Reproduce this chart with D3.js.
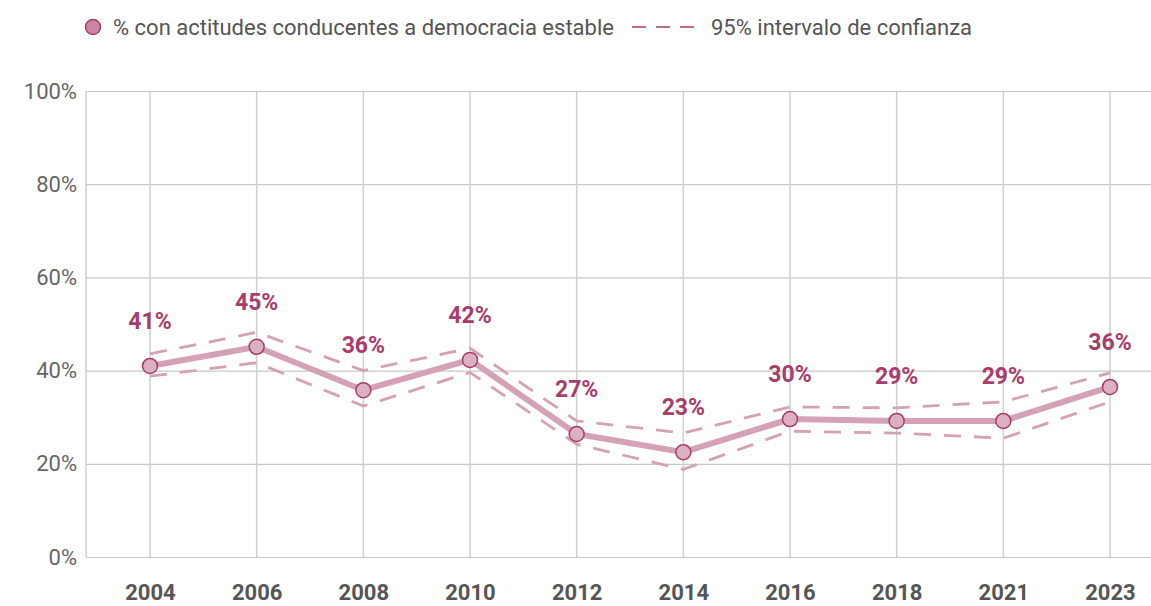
<!DOCTYPE html>
<html>
<head>
    <meta charset="utf-8">
    <title>Actitudes conducentes a democracia estable</title>
    <script src="https://cdnjs.cloudflare.com/ajax/libs/d3/7.8.5/d3.min.js"></script>
    <style>
        body {
            margin: 0;
            background: white;
            font-family: Roboto, "Noto Sans", sans-serif;
        }
        #chart { width: 1151px; height: 606px; }
    </style>
</head>
<body>
    <div id="chart"></div>

    <script>
        // data
        const years = ["2004", "2006", "2008", "2010", "2012", "2014", "2016", "2018", "2021", "2023"];
        const values = [41.0, 45.1, 35.8, 42.3, 26.4, 22.5, 29.6, 29.2, 29.2, 36.5];
        const labels = ["41%", "45%", "36%", "42%", "27%", "23%", "30%", "29%", "29%", "36%"];
        const upper = [43.6, 48.2, 40.0, 44.8, 29.2, 26.6, 32.2, 32.0, 33.3, 39.5];
        const lower = [38.8, 41.7, 32.4, 39.6, 24.2, 18.8, 27.0, 26.6, 25.5, 33.3];
        const yTicks = [0, 20, 40, 60, 80, 100];

        const W = 1151, H = 606;
        const margin = {top: 91, right: 0, bottom: 49, left: 86};
        const width = W - margin.left - margin.right;
        const height = H - margin.top - margin.bottom;

        const lineColor = "#d5a1b7";
        const darkColor = "#a83c6b";

        const svg = d3.select("#chart").append("svg")
            .attr("width", W)
            .attr("height", H);

        const g = svg.append("g")
            .attr("transform", `translate(${margin.left},${margin.top})`);

        const x = d3.scalePoint()
            .domain(years)
            .range([64, 1024]);

        const y = d3.scaleLinear()
            .domain([0, 100])
            .range([height, 0]);

        // horizontal grid + y labels
        g.append("g")
            .call(d3.axisLeft(y).tickValues(yTicks).tickSize(-width).tickFormat(d => d + "%"))
            .call(ax => ax.select(".domain").remove())
            .call(ax => ax.selectAll("line").attr("stroke", "#c8c8c8").attr("stroke-width", 1.2))
            .call(ax => ax.selectAll("text")
                .attr("x", -9)
                .attr("fill", "#666")
                .style("font-size", "22px")
                .style("font-family", "Roboto, sans-serif"));

        // vertical grid lines
        g.append("g")
            .selectAll("line")
            .data(years)
            .enter().append("line")
            .attr("x1", d => x(d)).attr("x2", d => x(d))
            .attr("y1", 0).attr("y2", height)
            .attr("stroke", "#d0d0d0")
            .attr("stroke-width", 1.5);

        // left axis line
        g.append("line")
            .attr("x1", 0).attr("x2", 0)
            .attr("y1", 0).attr("y2", height)
            .attr("stroke", "#d0d0d0")
            .attr("stroke-width", 1.5);

        // x labels
        g.append("g")
            .attr("transform", `translate(0,${height})`)
            .call(d3.axisBottom(x).tickSize(0).tickPadding(27))
            .call(ax => ax.select(".domain").remove())
            .call(ax => ax.selectAll("text")
                .attr("fill", "#555")
                .style("font-size", "22px")
                .style("font-weight", "bold")
                .style("font-family", "Roboto, sans-serif"));

        const line = d3.line()
            .x((d, i) => x(years[i]))
            .y(d => y(d));

        // confidence interval
        [upper, lower].forEach(arr => {
            g.append("path")
                .datum(arr)
                .attr("d", line)
                .attr("fill", "none")
                .attr("stroke", lineColor)
                .attr("stroke-width", 2.8)
                .attr("stroke-dasharray", "17,13");
        });

        // main line
        g.append("path")
            .datum(values)
            .attr("d", line)
            .attr("fill", "none")
            .attr("stroke", lineColor)
            .attr("stroke-width", 6);

        g.selectAll(".pt")
            .data(values)
            .enter().append("circle")
            .attr("cx", (d, i) => x(years[i]))
            .attr("cy", d => y(d))
            .attr("r", 7.5)
            .attr("fill", "#dbb0c2")
            .attr("stroke", darkColor)
            .attr("stroke-width", 1.5);

        g.selectAll(".lbl")
            .data(values)
            .enter().append("text")
            .attr("x", (d, i) => x(years[i]))
            .attr("y", d => y(d) - 37)
            .attr("text-anchor", "middle")
            .attr("fill", darkColor)
            .style("font-size", "23px")
            .style("font-weight", "bold")
            .style("font-family", "Roboto, sans-serif")
            .text((d, i) => labels[i]);

        // legend
        const legend = svg.append("g");
        legend.append("circle")
            .attr("cx", 93).attr("cy", 27).attr("r", 7.5)
            .attr("fill", "#cb86a4")
            .attr("stroke", darkColor)
            .attr("stroke-width", 1.5);
        legend.append("text")
            .attr("x", 113).attr("y", 35)
            .attr("fill", "#555")
            .style("font-size", "22px")
            .style("font-family", "Roboto, sans-serif")
            .text("% con actitudes conducentes a democracia estable");
        legend.append("line")
            .attr("x1", 632).attr("x2", 695)
            .attr("y1", 27).attr("y2", 27)
            .attr("stroke", darkColor)
            .attr("stroke-width", 1.5)
            .attr("stroke-dasharray", "14,10");
        legend.append("text")
            .attr("x", 711).attr("y", 35)
            .attr("fill", "#555")
            .style("font-size", "22px")
            .style("font-family", "Roboto, sans-serif")
            .text("95% intervalo de confianza");
    </script>
</body>
</html>
